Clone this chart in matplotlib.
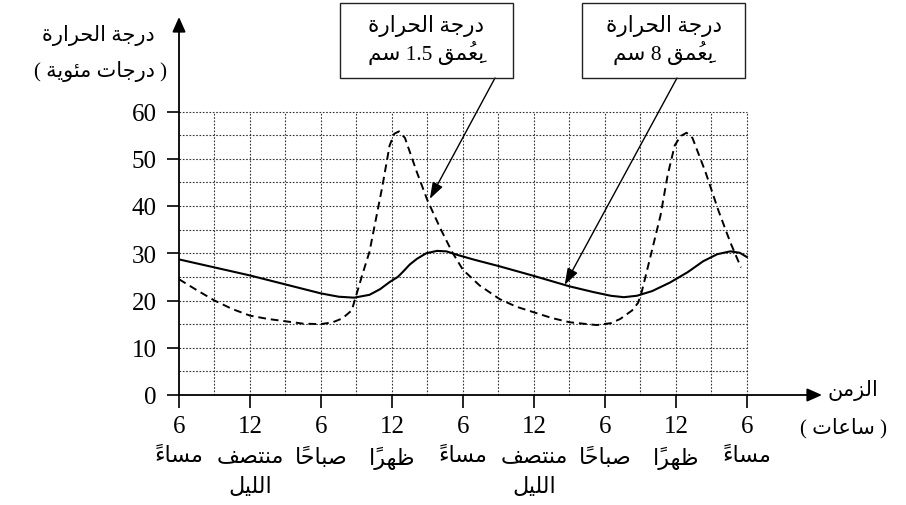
import matplotlib
matplotlib.use("Agg")
import numpy as np
import matplotlib.pyplot as plt
from matplotlib.patches import Rectangle
from matplotlib.transforms import blended_transform_factory

W, H = 906, 506
FONT = ['Liberation Serif', 'DejaVu Sans']

# time in hours, counted from 6 pm of the first day
hours_8cm = [0, 3, 6, 9, 12, 13.5, 14.8, 16.1, 17.0, 17.8, 18.5, 18.9, 19.5, 20.1,
             20.9, 21.8, 22.6, 23.6, 25, 27, 30, 33, 35, 36.5, 37.6, 38.7, 40,
             41.5, 43, 44.3, 45.5, 46.6, 47.4, 48]
temp_8cm = [28.7, 27.0, 25.3, 23.4, 21.5, 20.8, 20.6, 21.2, 22.4, 23.9, 25.0, 26.0, 27.6, 28.8,
            30.0, 30.5, 30.4, 29.6, 28.6, 27.3, 25.2, 23.0, 21.8, 21.0, 20.7, 21.0, 22.0,
            23.8, 26.0, 28.3, 29.8, 30.4, 30.1, 29.2]

hours_1_5cm = [0, 1.5, 3, 4.5, 6, 7.5, 9, 10.5, 12, 13, 13.8, 14.6, 15.05, 15.5, 16.1,
               17.2, 17.8, 18.2, 18.6, 19.1, 20.1, 21.0, 22.1, 23.1, 24.0, 25.4, 27.1,
               28.5, 30, 31.5, 33, 35.3, 36.5, 37.3, 38.3, 38.8, 39.1, 39.8, 40.7,
               41.3, 41.9, 42.4, 42.9, 43.4, 44.5, 45.6, 46.6, 47.5]
temp_1_5cm = [24.5, 22.2, 20.0, 18.2, 16.8, 16.1, 15.6, 15.1, 15.0, 15.4, 16.2, 17.9, 21.7, 25.5, 30.3,
              44.3, 52.8, 55.3, 55.8, 54.4, 47.2, 41.2, 35.2, 30.2, 26.5, 23.2, 20.3,
              18.7, 17.5, 16.3, 15.4, 14.8, 15.2, 16.1, 17.9, 19.5, 21.7, 28.8, 38.0,
              46.5, 52.8, 54.8, 55.5, 54.4, 47.2, 39.0, 32.3, 27.0]

tick_hours = [0, 6, 12, 18, 24, 30, 36, 42, 48]
tick_numbers = ['6', '12', '6', '12', '6', '12', '6', '12', '6']
tick_words = ['مساءً', 'منتصف', 'صباحًا', 'ظهرًا', 'مساءً', 'منتصف', 'صباحًا', 'ظهرًا', 'مساءً']
tick_words2 = ['', 'الليل', '', '', '', 'الليل', '', '', '']
y_ticks = [0, 10, 20, 30, 40, 50, 60]

# --- minimal arabic shaping (matplotlib has no text shaping) ---
DUAL = {'ئ': 0xFE89, 'ب': 0xFE8F, 'ت': 0xFE95, 'ث': 0xFE99, 'ج': 0xFE9D, 'ح': 0xFEA1,
        'خ': 0xFEA5, 'س': 0xFEB1, 'ش': 0xFEB5, 'ص': 0xFEB9, 'ض': 0xFEBD, 'ط': 0xFEC1,
        'ظ': 0xFEC5, 'ع': 0xFEC9, 'غ': 0xFECD, 'ف': 0xFED1, 'ق': 0xFED5, 'ك': 0xFED9,
        'ل': 0xFEDD, 'م': 0xFEE1, 'ن': 0xFEE5, 'ه': 0xFEE9, 'ي': 0xFEF1}
RIGHT = {'آ': 0xFE81, 'أ': 0xFE83, 'ؤ': 0xFE85, 'إ': 0xFE87, 'ا': 0xFE8D, 'ة': 0xFE93,
         'د': 0xFEA9, 'ذ': 0xFEAB, 'ر': 0xFEAD, 'ز': 0xFEAF, 'و': 0xFEED, 'ى': 0xFEEF}
NONJOIN = {'ء': 0xFE80}
MARKS = set(chr(c) for c in range(0x064B, 0x0653))


def shape_word(word):
    if not any('\u0600' <= ch <= '\u06ff' for ch in word):
        return word
    clusters = []
    for ch in word:
        if ch in MARKS and clusters:
            clusters[-1][1] += ch
        else:
            clusters.append([ch, ''])
    out = []
    for i, (b, m) in enumerate(clusters):
        prev = clusters[i - 1][0] if i > 0 else None
        nxt = clusters[i + 1][0] if i + 1 < len(clusters) else None
        joins_prev = prev in DUAL and (b in DUAL or b in RIGHT)
        joins_next = b in DUAL and (nxt in DUAL or nxt in RIGHT)
        if b in DUAL:
            off = 3 if (joins_prev and joins_next) else 1 if joins_prev else 2 if joins_next else 0
            g = chr(DUAL[b] + off)
        elif b in RIGHT:
            g = chr(RIGHT[b] + (1 if joins_prev else 0))
        elif b in NONJOIN:
            g = chr(NONJOIN[b])
        else:
            g = b
        # dejavu marks sit over the glyph that follows them
        out.append(m + g)
    return ''.join(reversed(out))


def ar(text):
    return ' '.join(shape_word(w) for w in reversed(text.split(' ')))


def fy(py):
    return 1 - py / H


fig = plt.figure(figsize=(W / 100, H / 100), dpi=100)
ax = fig.add_axes([179 / W, 110 / H, 643 / W, 378 / H])
ax.set_xlim(0, 54.35)
ax.set_ylim(0, 80)
for s in ax.spines.values():
    s.set_visible(False)

# dotted grid
dots = (0, (1.5, 1.5))
ax.vlines(np.arange(3, 49, 3), 0, 60, colors='#333333', linestyles=dots, lw=0.8)
ax.hlines(np.arange(5, 61, 5), 0, 48, colors='#333333', linestyles=dots, lw=0.8)

# axes with arrows
arrow_kw = dict(arrowstyle='-|>,head_length=0.45,head_width=0.2', mutation_scale=20,
                lw=1.3, color='black', shrinkA=0, shrinkB=0)
ax.annotate('', xy=(0, 80), xytext=(0, 0), arrowprops=arrow_kw, annotation_clip=False)
ax.annotate('', xy=(54.35, 0), xytext=(0, 0), arrowprops=arrow_kw, annotation_clip=False)

ax.set_xticks(tick_hours)
ax.set_xticklabels([])
ax.set_yticks(y_ticks)
ax.set_yticklabels([str(v) for v in y_ticks], fontsize=18, family=FONT)
ax.tick_params(direction='out', length=9, width=1.2, pad=7)

ax.plot(hours_8cm, temp_8cm, color='black', lw=1.5, solid_joinstyle='round')
ax.plot(hours_1_5cm, temp_1_5cm, color='black', lw=1.4, linestyle=(0, (4, 2.5)))

# x tick labels
trans = blended_transform_factory(ax.transData, fig.transFigure)
for h, n, w1, w2 in zip(tick_hours, tick_numbers, tick_words, tick_words2):
    ax.text(h, fy(427), n, ha='center', va='center', fontsize=18, family=FONT, transform=trans)
    ax.text(h, fy(458), ar(w1), ha='center', va='center', fontsize=16, family=FONT, transform=trans)
    if w2:
        ax.text(h, fy(488), ar(w2), ha='center', va='center', fontsize=16, family=FONT,
                transform=trans)

# axis titles
fig.text(98 / W, fy(36), ar('درجة الحرارة'), ha='center', va='center', fontsize=15, family=FONT)
fig.text(100 / W, fy(71), '( ' + ar('درجات مئوية') + ' )', ha='center', va='center',
         fontsize=15, family=FONT)
fig.text(853 / W, fy(391), ar('الزمن'), ha='center', va='center', fontsize=15, family=FONT)
fig.text(843 / W, fy(428), '( ' + ar('ساعات') + ' )', ha='center', va='center',
         fontsize=15, family=FONT)

# callout boxes
boxes = [
    (340, 513, 'بِعُمق 1.5 سم', 495, (21.2, 41.5)),
    (582, 745, 'بِعُمق 8 سم', 677, (32.6, 23.3)),
]
for left, right, line2, ax_start, tip in boxes:
    fig.add_artist(Rectangle((left / W, fy(79)), (right - left) / W, 75 / H,
                             transform=fig.transFigure, fill=False, lw=1, ec='#222222'))
    cx = (left + right) / 2 / W
    fig.text(cx, fy(26), ar('درجة الحرارة'), ha='center', va='center', fontsize=15.5, family=FONT)
    fig.text(cx, fy(53), ar(line2), ha='center', va='center', fontsize=15.5, family=FONT)
    ax.annotate('', xy=tip, xytext=(ax_start / W, fy(79)), textcoords='figure fraction',
                arrowprops=dict(arrowstyle='-|>,head_length=0.5,head_width=0.17',
                                mutation_scale=20, lw=1, color='black', shrinkA=0, shrinkB=0),
                annotation_clip=False)

fig.savefig('out.png', dpi=100)
plt.close(fig)
